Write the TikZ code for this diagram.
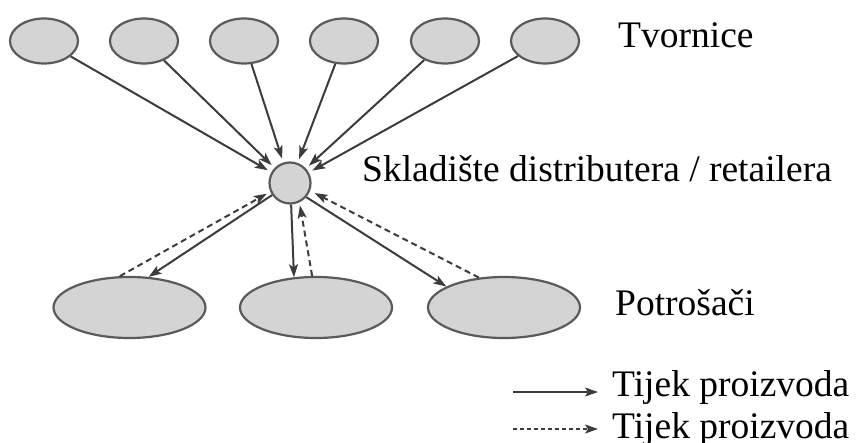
\documentclass[tikz,border=0pt]{standalone}
\usepackage{fontspec}
\setmainfont{Liberation Serif}
\usetikzlibrary{arrows.meta,shapes.geometric}
\definecolor{nodegray}{HTML}{D4D4D4}
\definecolor{edgegray}{HTML}{5A5A5A}
\definecolor{arrowgray}{HTML}{3C3C3C}
\begin{document}
\begin{tikzpicture}[x=1pt,y=-1pt,
  fac/.style={ellipse, draw=edgegray, fill=nodegray, line width=2.2pt, minimum width=68pt, minimum height=45pt, inner sep=0pt},
  cons/.style={ellipse, draw=edgegray, fill=nodegray, line width=2.2pt, minimum width=152pt, minimum height=61pt, inner sep=0pt},
  hub/.style={circle, draw=edgegray, fill=nodegray, line width=2.2pt, minimum size=41pt, inner sep=0pt},
  flow/.style={draw=arrowgray, line width=2pt, -{Stealth[length=13pt,width=9pt,inset=3pt]}},
  info/.style={flow, dash pattern=on 6pt off 4pt},
  lbl/.style={anchor=base west, inner sep=0pt, font=\fontsize{37.5}{40}\selectfont}]
\useasboundingbox (0,0) rectangle (858,443);

% factories
\node[fac] (t1) at (44,41) {};
\node[fac] (t2) at (144,41) {};
\node[fac] (t3) at (244,41) {};
\node[fac] (t4) at (344,41) {};
\node[fac] (t5) at (445,41) {};
\node[fac] (t6) at (545,41) {};

% hub
\node[hub] (c) at (290,183) {};

% consumers
\node[cons] (b1) at (129.5,307.5) {};
\node[cons] (b2) at (316,307.5) {};
\node[cons] (b3) at (504,307.5) {};

% factory -> hub
\foreach \i in {1,...,6} {
  \draw[flow, shorten >=4pt] (t\i) -- (c);
}

% hub -> consumers (solid), consumers -> hub (dashed)
\draw[flow] (c.214) -- (b1.58);
\draw[info, shorten >=4pt] (b1.107) -- (c.204);
\draw[flow] (c.273) -- (b2.126);
\draw[info, shorten >=3pt] (b2.97) -- (c.296);
\draw[flow] (c.319) -- (b3.160);
\draw[info, shorten >=5pt] (b3.130) -- (c.339);

% labels
\node[lbl] (lt) at (618,48) {Tvornice};
\node[lbl] (lc) at (362,182) {Skladište distributera / retailera};
\node[lbl] (lp) at (615,315) {Potrošači};

% legend
\coordinate (l1a) at (513,392);
\coordinate (l1b) at (598,392);
\coordinate (l2a) at (513,429);
\coordinate (l2b) at (598,429);
\draw[flow] (l1a) -- (l1b);
\draw[flow, dash pattern=on 4pt off 3pt] (l2a) -- (l2b);
\node[lbl] (lg1) at (612,396) {Tijek proizvoda};
\node[lbl] (lg2) at (612,438) {Tijek proizvoda};
\end{tikzpicture}
\end{document}
